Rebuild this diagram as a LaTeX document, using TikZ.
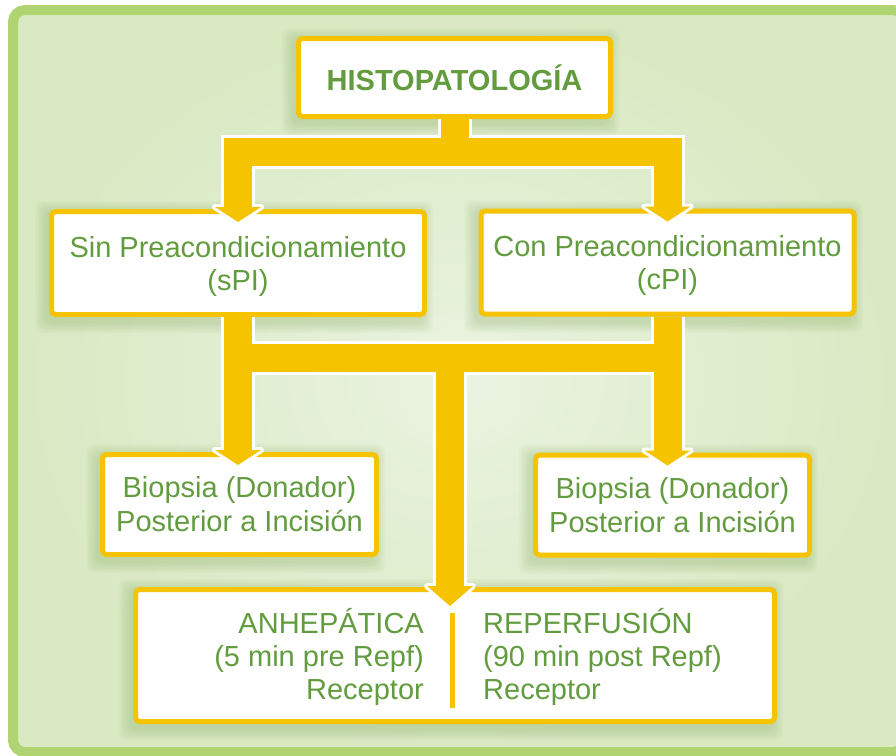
\documentclass[tikz,border=0pt]{standalone}
\usepackage{fontspec}
\setmainfont{Liberation Sans}
\usetikzlibrary{calc,backgrounds}

\definecolor{framegreen}{HTML}{AFD471}
\definecolor{panelin}{HTML}{EAF3E0}
\definecolor{panelout}{HTML}{D9E9C2}
\definecolor{linkyellow}{HTML}{F6C300}
\definecolor{textgreen}{HTML}{629C3F}
\definecolor{shadowgreen}{HTML}{7FA55A}

\tikzset{
  box/.style={draw=linkyellow, line width=5pt, fill=white, rounded corners=4pt,
    text=textgreen, align=center, inner sep=0pt},
  coltext/.style={text=textgreen, inner sep=0pt, font=\fontsize{29}{33}\selectfont},
  linkw/.style={draw=white, line width=34pt, line join=miter},
  linky/.style={draw=linkyellow, line width=28pt, line join=miter},
}

% arrow heads: base centre #1, length #2
\newcommand\headwhite[2]{\filldraw[white, line width=6pt, line join=round]
  ($(#1)+(-23,0)$) -- ($(#1)+(23,0)$) -- ($(#1)+(0,#2)$) -- cycle;}
\newcommand\headyellow[2]{\fill[linkyellow]
  ($(#1)+(-23,0)$) -- ($(#1)+(23,0)$) -- ($(#1)+(0,#2)$) -- cycle;}
% soft shadow behind a box
\newcommand\boxshade[1]{\foreach \s in {1,...,6}{%
  \fill[shadowgreen, opacity=0.05, rounded corners=8pt]
    ($(#1.south west)+(-2*\s-2,2*\s+4)$) rectangle ($(#1.north east)+(2*\s-6,-2*\s+4)$);}}

\begin{document}
\begin{tikzpicture}[x=1pt,y=-1pt]
\useasboundingbox (0,0) rectangle (896,755);
\begin{pgfonlayer}{background}
  \fill[white] (0,0) rectangle (896,755);
  \shadedraw[draw=framegreen, line width=10pt, rounded corners=12pt,
    inner color=panelin, outer color=panelout] (13,10) rectangle (905,752);
\end{pgfonlayer}

% boxes
\node[box, minimum width=312pt, minimum height=78pt,
  font=\fontsize{29}{33}\selectfont\bfseries] (hist) at (454.5,77.5) {HISTOPATOLOGÍA};
\node[box, minimum width=373pt, minimum height=103pt,
  font=\fontsize{29}{33}\selectfont] (sin) at (238,263)
  {\rule{0pt}{27pt}Sin Preacondicionamiento\\(sPI)};
\node[box, minimum width=373pt, minimum height=103pt,
  font=\fontsize{29}{33}\selectfont] (con) at (667.5,262.5)
  {\rule{0pt}{27pt}Con Preacondicionamiento\\(cPI)};
\node[box, minimum width=274pt, minimum height=100pt,
  font=\fontsize{29}{34}\selectfont] (bl) at (239.5,504.5)
  {Biopsia (Donador)\\Posterior a Incisión};
\node[box, minimum width=274pt, minimum height=100pt,
  font=\fontsize{29}{34}\selectfont] (br) at (672.5,505)
  {Biopsia (Donador)\\Posterior a Incisión};
\node[box, minimum width=639pt, minimum height=132pt] (bot) at (455,655.5) {};
\node[coltext, anchor=east, align=right] (anh) at (424,657)
  {ANHEPÁTICA\\(5 min pre Repf)\\Receptor};
\node[coltext, anchor=west, align=left] (rep) at (483,657)
  {REPERFUSIÓN\\(90 min post Repf)\\Receptor};

% divider inside the bottom box
\draw[linkyellow, line width=5pt] ($(bot.north)+(-3,26)$) -- ($(bot.south)+(-3,-16)$);

% shadows
\begin{pgfonlayer}{background}
  \boxshade{hist}\boxshade{sin}\boxshade{con}\boxshade{bl}\boxshade{br}\boxshade{bot}
\end{pgfonlayer}

% connector points
\coordinate (j1) at ($(hist.south)+(0,33)$);
\coordinate (aSin) at ($(sin.north)+(0,-2)$);
\coordinate (aCon) at ($(con.north)+(0,-2)$);
\coordinate (j2) at (450,357.5);
\coordinate (aBl) at ($(sin.south |- bl.north)+(0,-2)$);
\coordinate (aBr) at ($(con.south |- br.north)+(0,-2)$);
\coordinate (aBot) at ($(j2 |- bot.north)+(0,-1)$);

% white outline layer
\draw[linkw] (aSin) |- (j1) -| (aCon);
\draw[linkw] (hist.south) -- (j1);
\draw[linkw] (sin.south) -- (aBl);
\draw[linkw] (con.south) -- (aBr);
\draw[linkw] (sin.south |- j2) -- (con.south |- j2);
\draw[linkw] (j2) -- (aBot);
\headwhite{aSin}{15}\headwhite{aCon}{15}
\headwhite{aBl}{15}\headwhite{aBr}{15}\headwhite{aBot}{20}

% yellow layer
\draw[linky] (aSin) |- (j1) -| (aCon);
\draw[linky] (hist.south) -- (j1);
\draw[linky] (sin.south) -- (aBl);
\draw[linky] (con.south) -- (aBr);
\draw[linky] (sin.south |- j2) -- (con.south |- j2);
\draw[linky] (j2) -- (aBot);
\headyellow{aSin}{15}\headyellow{aCon}{15}
\headyellow{aBl}{15}\headyellow{aBr}{15}\headyellow{aBot}{20}
\end{tikzpicture}
\end{document}
